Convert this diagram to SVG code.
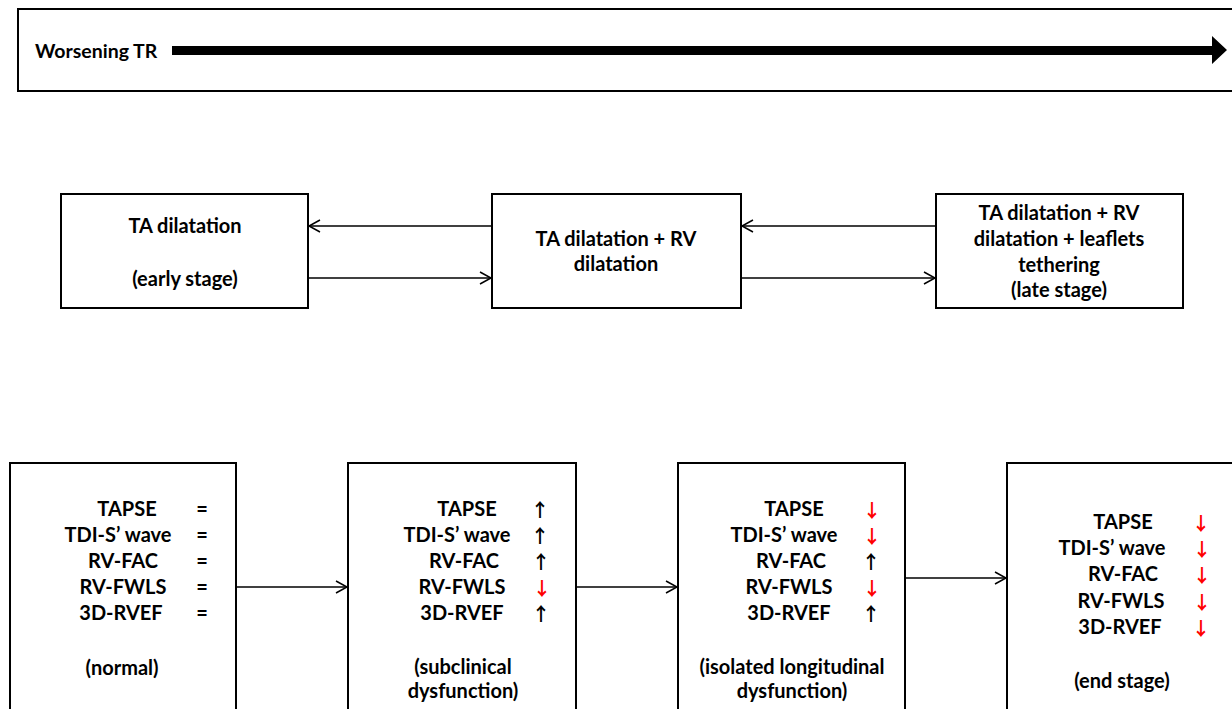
<svg xmlns="http://www.w3.org/2000/svg" width="1232" height="709" viewBox="0 0 1232 709">
<defs>
<style>
.box{fill:#fff;stroke:#000;stroke-width:2}
.t{font-family:Lato,"Open Sans","Liberation Sans",sans-serif;font-weight:bold;font-size:20px;fill:#000;text-anchor:middle}
.sym{font-family:"Noto Sans CJK SC","DejaVu Sans",sans-serif;font-weight:bold;font-size:18.5px;text-anchor:middle;fill:#000}
.dn{fill:#ff0000}
.conn{stroke:#000;stroke-width:1.5;fill:none;marker-end:url(#arr)}
</style>
<marker id="arr" markerUnits="userSpaceOnUse" markerWidth="14" markerHeight="16" refX="12" refY="7" orient="auto">
<path d="M1,1 L12,7 L1,13" fill="none" stroke="#000" stroke-width="1.5"/>
</marker>
</defs>
<rect width="1232" height="709" fill="#fff"/>

<g id="worsening">
<rect class="box" x="18" y="9" width="1230" height="82"/>
<text class="t" x="35" y="58" style="text-anchor:start;font-size:19.5px">Worsening TR</text>
<path d="M172,46 H1212 V36 L1227,50 L1212,64 V55 H172 Z" fill="#000"/>
</g>

<g id="stage-early">
<rect class="box" x="61" y="194" width="247" height="114"/>
<text class="t" x="185" y="233">TA dilatation</text>
<text class="t" x="185" y="286">(early stage)</text>
</g>
<g id="stage-mid">
<rect class="box" x="492" y="194" width="249" height="114"/>
<text class="t" x="616" y="246">TA dilatation + RV<tspan x="616" y="271">dilatation</tspan></text>
</g>
<g id="stage-late">
<rect class="box" x="936" y="194" width="247" height="114"/>
<text class="t" x="1059" y="220">TA dilatation + RV<tspan x="1059" y="246">dilatation + leaflets</tspan><tspan x="1059" y="272">tethering</tspan><tspan x="1059" y="297">(late stage)</tspan></text>
</g>

<g id="rv-normal">
<rect class="box" x="10" y="463" width="226" height="260"/>
<text class="t" x="127" y="516">TAPSE<tspan x="118" y="542">TDI-S’ wave</tspan><tspan x="123" y="568">RV-FAC</tspan><tspan x="123" y="594">RV-FWLS</tspan><tspan x="121" y="620">3D-RVEF</tspan></text>
<text class="t" x="202" y="516">=<tspan x="202" y="542">=</tspan><tspan x="202" y="568">=</tspan><tspan x="202" y="594">=</tspan><tspan x="202" y="620">=</tspan></text>
<text class="t" x="122" y="675">(normal)</text>
</g>
<g id="rv-subclinical">
<rect class="box" x="348" y="463" width="228" height="260"/>
<text class="t" x="467" y="516">TAPSE<tspan x="457" y="542">TDI-S’ wave</tspan><tspan x="464" y="568">RV-FAC</tspan><tspan x="462" y="594">RV-FWLS</tspan><tspan x="462" y="620">3D-RVEF</tspan></text>
<text class="sym" x="540" y="517">↑<tspan x="540" y="543">↑</tspan><tspan x="541" y="569">↑</tspan><tspan class="dn" x="542" y="595">↓</tspan><tspan x="541" y="621">↑</tspan></text>
<text class="t" x="463" y="674">(subclinical<tspan x="463" y="698">dysfunction)</tspan></text>
</g>
<g id="rv-longitudinal">
<rect class="box" x="678" y="463" width="227" height="260"/>
<text class="t" x="794" y="516">TAPSE<tspan x="784" y="542">TDI-S’ wave</tspan><tspan x="791" y="568">RV-FAC</tspan><tspan x="789" y="594">RV-FWLS</tspan><tspan x="789" y="620">3D-RVEF</tspan></text>
<text class="sym" x="872" y="517"><tspan class="dn">↓</tspan><tspan class="dn" x="872" y="543">↓</tspan><tspan x="871" y="569">↑</tspan><tspan class="dn" x="872" y="595">↓</tspan><tspan x="871" y="621">↑</tspan></text>
<text class="t" x="792" y="674">(isolated longitudinal<tspan x="792" y="698">dysfunction)</tspan></text>
</g>
<g id="rv-end">
<rect class="box" x="1007" y="463" width="240" height="260"/>
<text class="t" x="1123" y="529">TAPSE<tspan x="1112" y="555">TDI-S’ wave</tspan><tspan x="1123" y="581">RV-FAC</tspan><tspan x="1121" y="608">RV-FWLS</tspan><tspan x="1120" y="634">3D-RVEF</tspan></text>
<text class="sym dn" x="1201" y="530">↓<tspan x="1202" y="556">↓</tspan><tspan x="1202" y="582">↓</tspan><tspan x="1202" y="609">↓</tspan><tspan x="1201" y="635">↓</tspan></text>
<text class="t" x="1122" y="688">(end stage)</text>
</g>

<g id="connectors">
<line class="conn" x1="492" y1="226" x2="309" y2="226"/>
<line class="conn" x1="308" y1="278" x2="491" y2="278"/>
<line class="conn" x1="936" y1="226" x2="742" y2="226"/>
<line class="conn" x1="741" y1="278" x2="935" y2="278"/>
<line class="conn" x1="236" y1="587" x2="347" y2="587"/>
<line class="conn" x1="576" y1="587" x2="677" y2="587"/>
<line class="conn" x1="905" y1="578" x2="1006" y2="578"/>
</g>
</svg>
